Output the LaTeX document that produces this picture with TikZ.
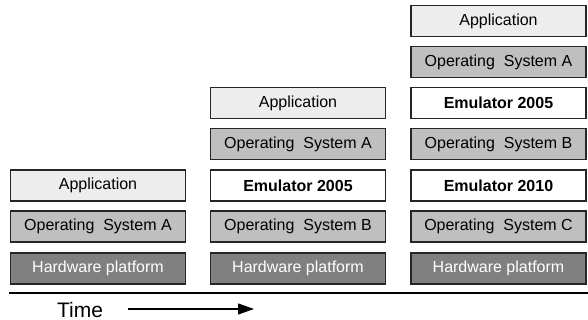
\documentclass[tikz,border=0pt]{standalone}
\usepackage{fontspec}
\setmainfont{Liberation Sans}
\usepackage{tikz}
\usetikzlibrary{arrows.meta}

\tikzset{
    layer/.style={draw=black!85, line width=1.3pt, minimum width=175pt, minimum height=31pt,
        inner sep=0pt, font=\fontsize{16}{18}\selectfont},
    appbox/.style={layer, fill=black!7},
    osbox/.style={layer, fill=black!25},
    emubox/.style={layer, fill=white, font=\fontsize{16}{18}\selectfont\bfseries},
    hwbox/.style={layer, fill=black!50, text=white}
}

\begin{document}
\begin{tikzpicture}[x=1pt, y=1pt]
    \useasboundingbox (0,0) rectangle (588,320);

    % First machine
    \node[hwbox]  (hw1)  at (98,51.5)  {Hardware platform};
    \node[osbox]  (os1)  at (98,93.5)  {Operating\ \ System A};
    \node[appbox] (app1) at (98,134.5) {Application};

    % Second machine
    \node[hwbox]  (hw2)  at (298,51.5)  {Hardware platform};
    \node[osbox]  (os2)  at (298,93.5)  {Operating\ \ System B};
    \node[emubox] (emu2) at (298,134.5) {Emulator 2005};
    \node[osbox]  (os3)  at (298,176)   {Operating\ \ System A};
    \node[appbox] (app2) at (298,217)   {Application};

    % Third machine
    \node[hwbox]  (hw3)  at (498.5,51.5)  {Hardware platform};
    \node[osbox]  (os4)  at (498.5,93.5)  {Operating\ \ System C};
    \node[emubox] (emu3) at (498.5,134.5) {Emulator 2010};
    \node[osbox]  (os5)  at (498.5,176)   {Operating\ \ System B};
    \node[emubox] (emu4) at (498.5,217)   {Emulator 2005};
    \node[osbox]  (os6)  at (498.5,258)   {Operating\ \ System A};
    \node[appbox] (app3) at (498.5,299)   {Application};

    % Time axis
    \coordinate (base0) at (9,27);
    \coordinate (base1) at (588,27);
    \draw[line width=1.2pt] (base0) -- (base1);
    \node[font=\fontsize{21}{23}\selectfont] (time) at (80,10.5) {Time};
    \coordinate (arr0) at (128,11);
    \coordinate (arr1) at (254,11);
    \draw[line width=1.2pt, -{Triangle[length=16pt,width=11pt]}] (arr0) -- (arr1);
\end{tikzpicture}
\end{document}
